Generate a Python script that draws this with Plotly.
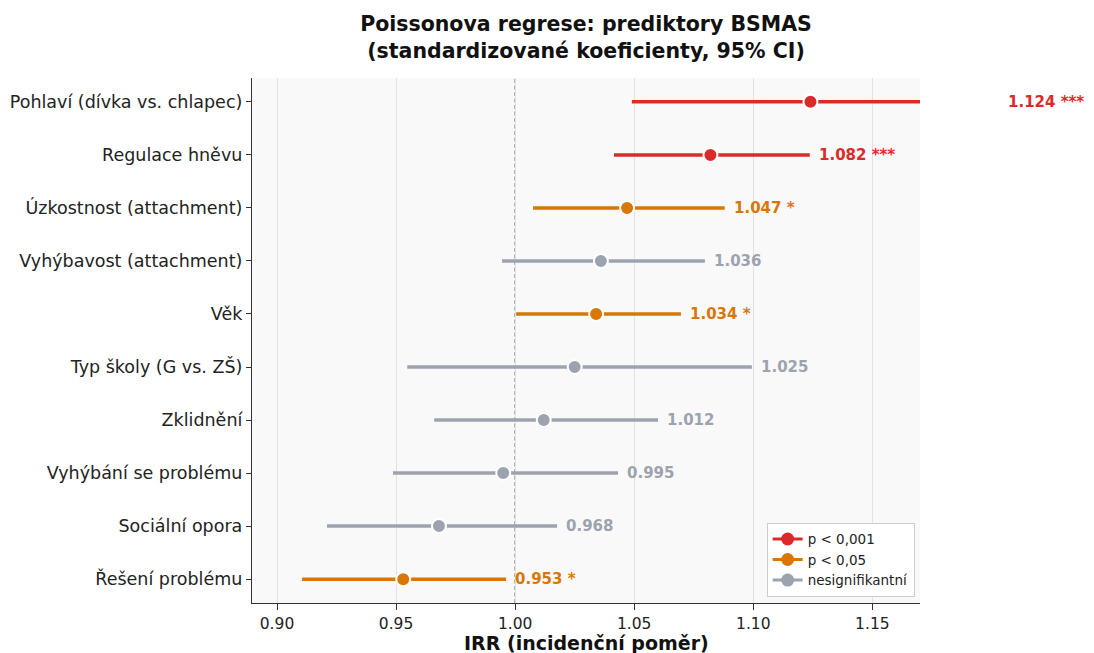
import plotly.graph_objects as go

labels = ["Pohlaví (dívka vs. chlapec)", "Regulace hněvu", "Úzkostnost (attachment)",
          "Vyhýbavost (attachment)", "Věk", "Typ školy (G vs. ZŠ)", "Zklidnění",
          "Vyhýbání se problému", "Sociální opora", "Řešení problému"]
irr = [1.124, 1.082, 1.047, 1.036, 1.034, 1.025, 1.012, 0.995, 0.968, 0.953]
ci_lo = [1.049, 1.0415, 1.0075, 0.9945, 1.0004, 0.9547, 0.966, 0.9487, 0.921, 0.9105]
ci_hi = [1.203, 1.1237, 1.088, 1.0797, 1.0696, 1.0994, 1.060, 1.0432, 1.0176, 0.9962]
sig = ["***", "***", "*", "", "*", "", "", "", "", "*"]

colors = {"***": "#dc2a2a", "*": "#d97706", "": "#9ca3af"}
legend_names = {"***": "p < 0,001", "*": "p < 0,05", "": "nesignifikantní"}

XMIN, XMAX = 0.8895, 1.170

fig = go.Figure()

for i, lab in enumerate(labels):
    c = colors[sig[i]]
    fig.add_trace(go.Scatter(x=[ci_lo[i], ci_hi[i]], y=[i, i], mode="lines",
                             line=dict(color=c, width=3.5), showlegend=False,
                             hoverinfo="skip"))
    fig.add_trace(go.Scatter(x=[irr[i]], y=[i], mode="markers",
                             marker=dict(color=c, size=14, line=dict(color="white", width=2)),
                             showlegend=False))
    txt = f"{irr[i]:.3f}" + (f" {sig[i]}" if sig[i] else "")
    fig.add_annotation(x=(ci_hi[i] - XMIN) / (XMAX - XMIN), xref="paper", y=i, yref="y",
                       text=f"<b>{txt}</b>", showarrow=False, xanchor="left", yanchor="middle",
                       xshift=7, font=dict(color=c, size=15, family="DejaVu Sans"))

for key in ["***", "*", ""]:
    fig.add_trace(go.Scatter(x=[None], y=[None], mode="lines+markers",
                             name=legend_names[key],
                             line=dict(color=colors[key], width=3),
                             marker=dict(color=colors[key], size=13)))

fig.add_shape(type="line", x0=1.0, x1=1.0, y0=0, y1=1, yref="paper", xref="x",
              line=dict(color="#7a7a7a", width=1.4, dash="4px,2.5px"), layer="below")

# x-axis title
fig.add_annotation(x=0.5, xref="paper", y=0, yref="paper", yanchor="middle", yshift=-40,
                   text="<b>IRR (incidenční poměr)</b>", showarrow=False,
                   font=dict(size=19, color="#111111"))

fig.update_layout(
    width=1094, height=653,
    margin=dict(l=244, r=182, t=70, b=58),
    paper_bgcolor="white", plot_bgcolor="#f9f9f9",
    font=dict(family="DejaVu Sans", color="#222222"),
    title=dict(text="<b>Poissonova regrese: prediktory BSMAS<br>(standardizované koeficienty, 95% CI)</b>",
               x=(244 + 334) / 1094, xanchor="center", y=0.965, yanchor="top",
               font=dict(size=20.5, color="#111111")),
    xaxis=dict(range=[XMIN, XMAX], tickvals=[0.90, 0.95, 1.00, 1.05, 1.10, 1.15],
               ticktext=["0.90", "0.95", "1.00", "1.05", "1.10", "1.15"],
               showgrid=True, gridcolor="#e2e2e2", gridwidth=1, zeroline=False,
               showline=True, linecolor="#333333", linewidth=1.3,
               ticks="outside", ticklen=6, tickcolor="#333333",
               tickfont=dict(size=15.5, color="#222222"), automargin=False),
    yaxis=dict(range=[9.45, -0.45], tickvals=list(range(len(labels))), ticktext=labels,
               showgrid=False, zeroline=False, showline=True, linecolor="#333333", linewidth=1.3,
               ticks="outside", ticklen=5, tickcolor="#333333", automargin=False,
               tickfont=dict(size=17.5, color="#222222")),
    legend=dict(x=0.992, xanchor="right", y=0.012, yanchor="bottom",
                bgcolor="white", bordercolor="#cccccc", borderwidth=1,
                font=dict(size=13.5, color="#222222"), tracegroupgap=0, itemwidth=30),
)

fig.write_html("out.html")
